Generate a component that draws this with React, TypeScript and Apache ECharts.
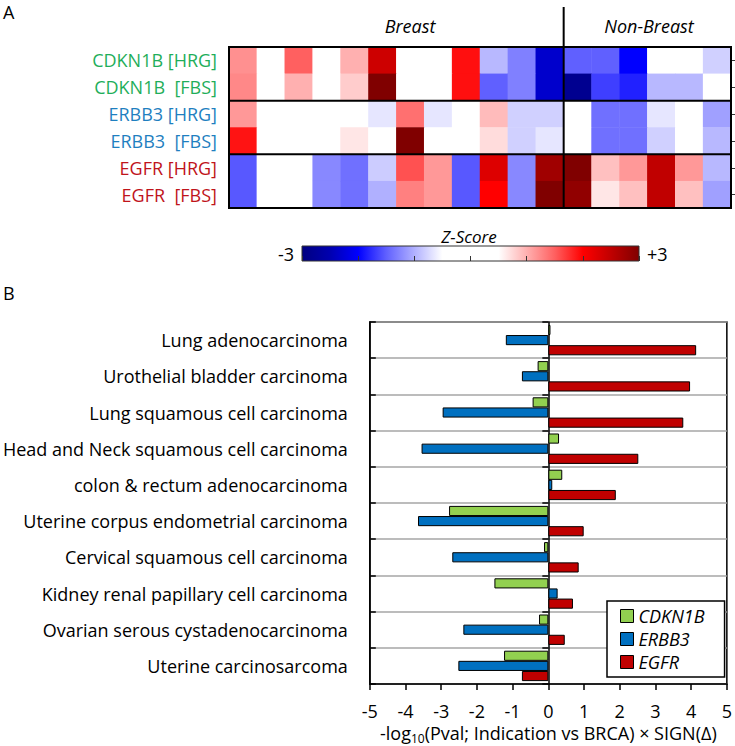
import React, { useEffect, useRef } from "react";
import * as echarts from "echarts";

// ---------- Data ----------
const GENES = ["CDKN1B", "ERBB3", "EGFR"];
const GENE_COLORS = ["#92D050", "#0070C0", "#C00000"];
const GENE_LABEL_COLORS: Record<string, string> = {
  CDKN1B: "#1fae5a",
  ERBB3: "#1f7fc0",
  EGFR: "#c0141b",
};

const HEATMAP_ROWS = [
  "CDKN1B [HRG]",
  "CDKN1B  [FBS]",
  "ERBB3 [HRG]",
  "ERBB3  [FBS]",
  "EGFR [HRG]",
  "EGFR  [FBS]",
];
const HEATMAP_ROW_GENES = ["CDKN1B", "CDKN1B", "ERBB3", "ERBB3", "EGFR", "EGFR"];

const HEATMAP_COLUMNS = [
  "B1", "B2", "B3", "B4", "B5", "B6", "B7", "B8", "B9", "B10", "B11", "B12",
  "N1", "N2", "N3", "N4", "N5", "N6",
];
const COLUMN_GROUPS = [
  "Breast", "Breast", "Breast", "Breast", "Breast", "Breast",
  "Breast", "Breast", "Breast", "Breast", "Breast", "Breast",
  "Non-Breast", "Non-Breast", "Non-Breast", "Non-Breast", "Non-Breast", "Non-Breast",
];

// z-scores
const Z_CDKN1B_HRG = [1.2, 0, 1.5, 0, 1.0, 2.4, 0, 0, 1.92, -0.95, -1.3, -2.32, -1.5, -1.5, -2.0, 0, 0, -0.8];
const Z_CDKN1B_FBS = [1.25, 0, 1.0, 0, 0.82, 3.0, 0, 0, 1.92, -1.5, -1.3, -2.32, -2.83, -1.67, -1.83, -0.95, -0.95, 0];
const Z_ERBB3_HRG = [1.15, 0, 0, 0, 0, -0.66, 1.4, -0.66, 0, 0.93, -0.8, -0.8, 0, -1.4, -1.4, -0.66, 0, -1.1];
const Z_ERBB3_FBS = [1.9, 0, 0, 0, 0.66, 0, 3.0, 0, 0, 0.72, -0.8, -0.66, 0, -1.4, -1.4, -0.8, 0, -0.95];
const Z_EGFR_HRG = [-1.54, 0, 0, -1.25, -1.4, -0.82, 1.58, 1.15, -1.54, 2.27, -1.25, 2.75, 3.0, 0.9, 1.15, 2.5, 1.15, -0.95];
const Z_EGFR_FBS = [-1.54, 0, 0, -1.25, -1.4, -1.0, 1.3, 1.15, -1.54, 2.0, -1.25, 3.0, 2.87, 0.66, 0.9, 2.5, 0.9, -1.1];
const HEATMAP_VALUES = [Z_CDKN1B_HRG, Z_CDKN1B_FBS, Z_ERBB3_HRG, Z_ERBB3_FBS, Z_EGFR_HRG, Z_EGFR_FBS];

const Z_MIN = -3;
const Z_MAX = 3;
const Z_COLOR_STOPS = [
  "#000080", "#0000B0", "#0000FF", "#6060FF", "#B0B0FF", "#FFFFFF", "#FFFFFF",
  "#FFFFFF", "#FFB0B0", "#FF6060", "#FF0000", "#C00000", "#800000",
];

const INDICATIONS = [
  "Lung adenocarcinoma",
  "Urothelial bladder carcinoma",
  "Lung squamous cell carcinoma",
  "Head and Neck squamous cell carcinoma",
  "colon & rectum adenocarcinoma",
  "Uterine corpus endometrial carcinoma",
  "Cervical squamous cell carcinoma",
  "Kidney renal papillary cell carcinoma",
  "Ovarian serous cystadenocarcinoma",
  "Uterine carcinosarcoma",
];
const CDKN1B_VALUES = [0.06, -0.3, -0.44, 0.3, 0.39, -2.78, -0.12, -1.51, -0.26, -1.24];
const ERBB3_VALUES = [-1.19, -0.74, -2.96, -3.55, 0.11, -3.65, -2.69, 0.26, -2.38, -2.52];
const EGFR_VALUES = [4.14, 3.97, 3.78, 2.52, 1.89, 0.99, 0.85, 0.69, 0.46, -0.74];
const BAR_VALUES = [CDKN1B_VALUES, ERBB3_VALUES, EGFR_VALUES];

const X_MIN = -5;
const X_MAX = 5;

const FONT = "Open Sans";

export default function App() {
  const ref = useRef<HTMLDivElement>(null);

  useEffect(() => {
    document.body.style.margin = "0";
    if (!ref.current) return;
    const chart = echarts.init(ref.current, undefined, { renderer: "svg" });

    const heatData: number[][] = [];
    HEATMAP_VALUES.forEach((row, r) => row.forEach((v, c) => heatData.push([c, r, v])));

    const rowBreaks: number[] = [];
    HEATMAP_ROW_GENES.forEach((g, i) => {
      if (i > 0 && g !== HEATMAP_ROW_GENES[i - 1]) rowBreaks.push(i);
    });
    const colBreaks: number[] = [];
    COLUMN_GROUPS.forEach((g, i) => {
      if (i > 0 && g !== COLUMN_GROUPS[i - 1]) colBreaks.push(i);
    });

    const gradStops = Z_COLOR_STOPS.map((c, i) => ({ offset: i / (Z_COLOR_STOPS.length - 1), color: c }));

    const rich: Record<string, any> = {};
    Object.keys(GENE_LABEL_COLORS).forEach((g) => {
      rich[g] = { color: GENE_LABEL_COLORS[g], fontSize: 18, fontFamily: FONT };
    });

    const option: any = {
      animation: false,
      textStyle: { fontFamily: FONT },
      grid: [
        { left: 229, top: 47, width: 502, height: 161 },
        { left: 364, top: 322, width: 364, height: 362, show: true, borderColor: "#000", borderWidth: 1.5, backgroundColor: "transparent" },
        { left: 302, top: 246, width: 337, height: 15 },
      ],
      visualMap: {
        show: false,
        type: "continuous",
        min: Z_MIN,
        max: Z_MAX,
        dimension: 2,
        seriesIndex: 0,
        inRange: { color: Z_COLOR_STOPS },
      },
      legend: {
        data: GENES,
        orient: "vertical",
        left: 607,
        top: 601,
        padding: [6, 20, 6, 13],
        itemGap: 5,
        itemWidth: 13,
        itemHeight: 13,
        icon: "rect",
        borderColor: "#000",
        borderWidth: 1.5,
        backgroundColor: "#fff",
        itemStyle: { borderColor: "#000", borderWidth: 1 },
        textStyle: { fontFamily: FONT, fontSize: 18, fontStyle: "italic", color: "#000", padding: [0, 0, 0, 0] },
      },
      xAxis: [
        { type: "category", gridIndex: 0, data: HEATMAP_COLUMNS, show: false },
        {
          type: "value",
          gridIndex: 1,
          min: X_MIN,
          max: X_MAX,
          interval: 1,
          axisLine: { show: true, onZero: false, lineStyle: { color: "#000", width: 1.5 } },
          axisTick: { show: true, length: 6, lineStyle: { color: "#000", width: 1.5 } },
          splitLine: { show: false },
          axisLabel: { fontFamily: FONT, fontSize: 18, color: "#000", margin: 18 },
          name: "-log{sub|10}(Pval; Indication vs BRCA) × SIGN(Δ)",
          nameLocation: "middle",
          nameGap: 36,
          nameTextStyle: {
            fontFamily: FONT,
            fontSize: 18,
            color: "#000",
            lineHeight: 24,
            rich: { sub: { fontFamily: FONT, fontSize: 12, lineHeight: 12, verticalAlign: "bottom", color: "#000" } },
          },
        },
        {
          type: "value",
          gridIndex: 2,
          min: Z_MIN,
          max: Z_MAX,
          interval: 1,
          z: 10,
          axisLine: { show: false },
          axisTick: { show: true, inside: true, length: 5, lineStyle: { color: "#333", width: 1 } },
          axisLabel: { show: false },
          splitLine: { show: false },
        },
      ],
      yAxis: [
        {
          type: "category",
          gridIndex: 0,
          data: HEATMAP_ROWS,
          inverse: true,
          axisLine: { show: false },
          axisTick: { show: false },
          axisLabel: {
            margin: 12,
            fontSize: 18,
            fontFamily: FONT,
            formatter: (v: string) => {
              const g = HEATMAP_ROW_GENES[HEATMAP_ROWS.indexOf(v)];
              return `{${g}|${v}}`;
            },
            rich,
          },
        },
        {
          type: "category",
          gridIndex: 0,
          data: HEATMAP_ROWS,
          inverse: true,
          position: "right",
          axisLine: { show: false },
          axisTick: { show: true, alignWithLabel: true, length: 4, lineStyle: { color: "#333" } },
          axisLabel: { show: false },
        },
        {
          type: "category",
          gridIndex: 1,
          data: INDICATIONS,
          inverse: true,
          position: "left",
          axisLine: { show: true, onZero: false, lineStyle: { color: "#000", width: 1.5 } },
          axisTick: { show: false },
          axisLabel: { interval: 0, fontFamily: FONT, fontSize: 18, color: "#000", margin: 22 },
          splitLine: { show: true, interval: 0, lineStyle: { color: "#A6A6A6", width: 1.5 } },
        },
        {
          type: "category",
          gridIndex: 1,
          data: INDICATIONS,
          inverse: true,
          position: "left",
          axisLine: { show: true, onZero: true, lineStyle: { color: "#000", width: 1.5 } },
          axisTick: { show: true, interval: 0, length: 6, lineStyle: { color: "#000", width: 1.5 } },
          axisLabel: { show: false },
          splitLine: { show: false },
        },
        {
          type: "category",
          gridIndex: 1,
          data: INDICATIONS,
          inverse: true,
          position: "left",
          axisLine: { show: false, onZero: true },
          axisTick: { show: true, inside: true, interval: 0, length: 6, lineStyle: { color: "#000", width: 1.5 } },
          axisLabel: { show: false },
          splitLine: { show: false },
        },
        { type: "value", gridIndex: 2, min: 0, max: 1, show: false },
      ],
      graphic: [
        { type: "text", x: 3, y: 12, style: { text: "A", fontFamily: FONT, fontSize: 18, fill: "#000", verticalAlign: "middle" } },
        { type: "text", x: 3, y: 293, style: { text: "B", fontFamily: FONT, fontSize: 18, fill: "#000", verticalAlign: "middle" } },
        { type: "text", x: 410, y: 26, style: { text: "Breast", fontFamily: FONT, fontSize: 18, fontStyle: "italic", fill: "#000", align: "center", verticalAlign: "middle" } },
        { type: "text", x: 649, y: 26, style: { text: "Non-Breast", fontFamily: FONT, fontSize: 18, fontStyle: "italic", fill: "#000", align: "center", verticalAlign: "middle" } },
        { type: "text", x: 469, y: 236, style: { text: "Z-Score", fontFamily: FONT, fontSize: 17, fontStyle: "italic", fill: "#000", align: "center", verticalAlign: "middle" } },
        { type: "text", x: 294, y: 254, style: { text: "-3", fontFamily: FONT, fontSize: 18, fill: "#000", align: "right", verticalAlign: "middle" } },
        { type: "text", x: 647, y: 254, style: { text: "+3", fontFamily: FONT, fontSize: 18, fill: "#000", align: "left", verticalAlign: "middle" } },
      ],
      series: [
        {
          type: "heatmap",
          xAxisIndex: 0,
          yAxisIndex: 0,
          data: heatData,
          itemStyle: { borderWidth: 0 },
          emphasis: { disabled: true },
        },
        {
          type: "custom",
          xAxisIndex: 0,
          yAxisIndex: 0,
          clip: false,
          silent: true,
          z: 5,
          data: [[0, 0]],
          renderItem: (_p: any, api: any) => {
            const tl = api.coord([0, 0]);
            const br = api.coord([HEATMAP_COLUMNS.length - 1, HEATMAP_ROWS.length - 1]);
            const sz = api.size([1, 1]);
            const w = Math.abs(sz[0]);
            const h = Math.abs(sz[1]);
            const x0 = tl[0] - w / 2;
            const y0 = tl[1] - h / 2;
            const x1 = br[0] + w / 2;
            const y1 = br[1] + h / 2;
            const lineStyle = { stroke: "#000", lineWidth: 2 };
            const children: any[] = [
              { type: "rect", shape: { x: x0, y: y0, width: x1 - x0, height: y1 - y0 }, style: { fill: "none", stroke: "#000", lineWidth: 2 } },
            ];
            rowBreaks.forEach((r) => {
              const y = api.coord([0, r])[1] - h / 2;
              children.push({ type: "line", shape: { x1: x0, y1: y, x2: x1, y2: y }, style: lineStyle });
            });
            colBreaks.forEach((c) => {
              const x = api.coord([c, 0])[0] - w / 2;
              children.push({ type: "line", shape: { x1: x, y1: y0 - 40, x2: x, y2: y1 }, style: lineStyle });
            });
            return { type: "group", children };
          },
        },
        ...GENES.map((g, i) => ({
          name: g,
          type: "bar",
          xAxisIndex: 1,
          yAxisIndex: 2,
          data: BAR_VALUES[i],
          barGap: "0%",
          barCategoryGap: "16%",
          itemStyle: { color: GENE_COLORS[i], borderColor: "#000", borderWidth: 1 },
          emphasis: { disabled: true },
        })),
        {
          type: "custom",
          xAxisIndex: 2,
          yAxisIndex: 5,
          silent: true,
          z: 1,
          data: [[Z_MIN, Z_MAX]],
          renderItem: (_p: any, api: any) => {
            const a = api.coord([api.value(0), 1]);
            const b = api.coord([api.value(1), 0]);
            return {
              type: "rect",
              shape: { x: a[0], y: a[1], width: b[0] - a[0], height: b[1] - a[1] },
              style: {
                fill: new echarts.graphic.LinearGradient(0, 0, 1, 0, gradStops),
                stroke: "#333",
                lineWidth: 1,
              },
            };
          },
        },
      ],
    };

    chart.setOption(option);
    return () => chart.dispose();
  }, []);

  return <div ref={ref} style={{ width: 735, height: 746 }} />;
}
